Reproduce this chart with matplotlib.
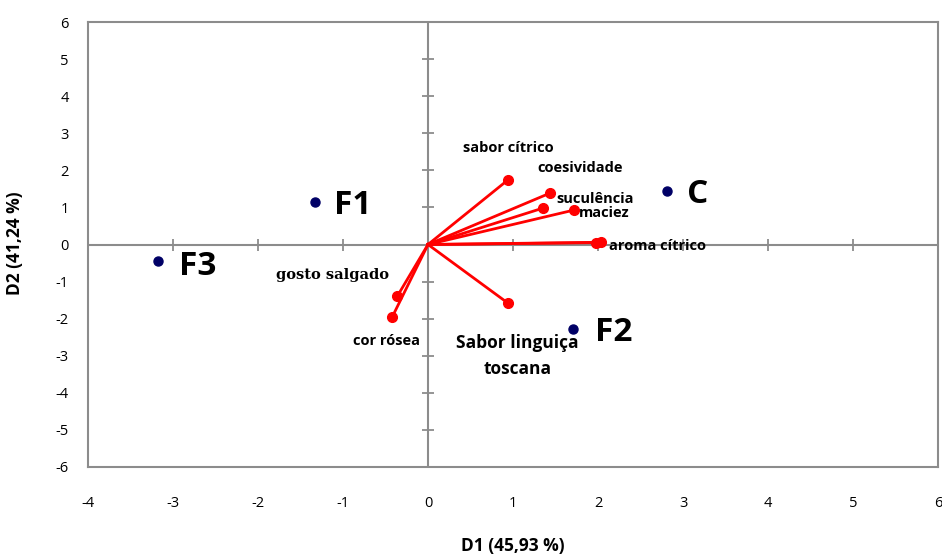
import matplotlib
matplotlib.use("Agg")
import matplotlib.pyplot as plt
import numpy as np

plt.rcParams["axes.unicode_minus"] = False

# Sample scores
sample_names = ["F1", "F3", "C", "F2"]
sample_x = [-1.33, -3.18, 2.81, 1.71]
sample_y = [1.15, -0.44, 1.44, -2.28]

# Attribute vectors
attr_names = ["sabor cítrico", "coesividade", "suculência", "maciez", "aroma cítrico", "",
              "gosto salgado", "cor rósea", "Sabor linguiça\ntoscana"]
attr_x = [0.94, 1.44, 1.35, 1.72, 1.98, 2.03, -0.36, -0.42, 0.94]
attr_y = [1.74, 1.39, 0.98, 0.93, 0.05, 0.06, -1.39, -1.95, -1.58]

x_ticks = [-4, -3, -2, -1, 0, 1, 2, 3, 4, 5, 6]
y_ticks = [-6, -5, -4, -3, -2, -1, 0, 1, 2, 3, 4, 5, 6]

fig = plt.figure(figsize=(9.42, 5.56), dpi=100)
ax = fig.add_axes([88/942, 89/556, 850/942, 445/556])
ax.set_xlim(-4, 6)
ax.set_ylim(-6, 6)
gray = "#8c8c8c"
for s in ax.spines.values():
    s.set_color(gray)
    s.set_linewidth(1.5)

ax.axhline(0, color=gray, lw=1.5, zorder=1)
ax.axvline(0, color=gray, lw=1.5, zorder=1)
ax.plot(x_ticks, np.zeros(len(x_ticks)), ls="none", marker="|", ms=9, mew=1.3, color=gray, zorder=1)
ax.plot(np.zeros(len(y_ticks)), y_ticks, ls="none", marker="_", ms=9, mew=1.3, color=gray, zorder=1)

ax.set_xticks(x_ticks)
ax.set_yticks(y_ticks)
ax.tick_params(length=0, labelsize=10.5, colors="black")
ax.tick_params(axis="x", pad=21)
ax.tick_params(axis="y", pad=14)
for lab in ax.get_xticklabels() + ax.get_yticklabels():
    lab.set_family("Open Sans")

# vectors
for x, y in zip(attr_x, attr_y):
    ax.plot([0, x], [0, y], color="#ff0000", lw=2, zorder=2)
ax.plot(attr_x, attr_y, ls="none", marker="o", ms=7, color="#ff0000", zorder=3)

# samples
ax.plot(sample_x, sample_y, ls="none", marker="o", ms=6.5, color="#000066", zorder=3)

big = dict(fontsize=24, fontweight="bold", family="Open Sans", va="center", ha="left")
offs = {"F1": (0.22, -0.1), "F3": (0.25, -0.15), "C": (0.24, -0.1), "F2": (0.25, -0.1)}
for n, x, y in zip(sample_names, sample_x, sample_y):
    dx, dy = offs[n]
    ax.text(x + dx, y + dy, n, **big)

small = dict(fontsize=10.5, fontweight="bold", family="Open Sans", va="center")
lab_pos = {
    "sabor cítrico": (0.94, 2.6, "center"),
    "coesividade": (1.29, 2.05, "left"),
    "suculência": (1.51, 1.22, "left"),
    "maciez": (1.78, 0.85, "left"),
    "aroma cítrico": (2.13, -0.03, "left"),
    "cor rósea": (-0.09, -2.6, "right"),
}
for n in attr_names:
    if n in lab_pos:
        x, y, ha = lab_pos[n]
        ax.text(x, y, n, ha=ha, **small)
ax.text(-0.46, -0.82, "gosto salgado", ha="right", va="center", fontsize=10.5,
        fontweight="bold", family="DejaVu Serif")
ax.text(1.05, -3.0, "Sabor linguiça\ntoscana", ha="center", va="center", fontsize=12.5,
        fontweight="bold", family="Open Sans", linespacing=1.6)

fig.text(15/942, 1 - 243/556, "D2 (41,24 %)", rotation=90, ha="center", va="center",
         fontsize=12.5, fontweight="bold", family="Open Sans")
fig.text(513/942, 1 - 546/556, "D1 (45,93 %)", ha="center", va="center",
         fontsize=12.5, fontweight="bold", family="Open Sans")

fig.savefig("out.png", dpi=100)
